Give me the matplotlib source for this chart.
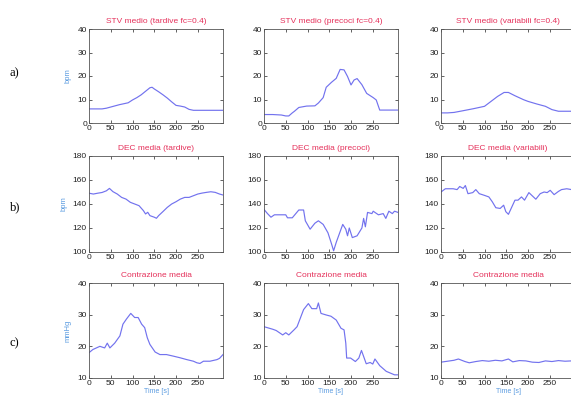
import matplotlib
matplotlib.use("Agg")
import matplotlib.pyplot as plt

# --- dati (tempo [s], valore) ---
stv_tard_t = [0, 10, 20, 30, 40, 50, 60, 70, 80, 90, 100, 110, 120, 130, 140, 145, 150, 160, 170, 180,
              190, 200, 210, 220, 230, 240, 250, 260, 270, 280, 290, 300, 308]
stv_tard_v = [6, 6, 6, 6, 6.3, 6.8, 7.3, 7.8, 8.2, 8.6, 9.8, 10.8, 12, 13.5, 15, 15.2, 14.5, 13.3, 12, 10.6,
              9, 7.5, 7.2, 6.8, 5.8, 5.4, 5.4, 5.4, 5.4, 5.4, 5.4, 5.4, 5.4]

stv_prec_t = [0, 20, 40, 50, 57, 65, 70, 80, 98, 117, 125, 136, 143, 155, 166, 175, 184, 192, 200, 207,
              214, 225, 236, 251, 258, 266, 280, 300, 308]
stv_prec_v = [3.6, 3.6, 3.4, 3.0, 3.0, 4.3, 5.0, 6.6, 7.2, 7.3, 8.5, 10.8, 15.2, 17.3, 19, 22.8, 22.6, 19.8, 16.2, 18.3,
              18.9, 16.3, 12.6, 10.8, 9.8, 5.5, 5.5, 5.5, 5.5]

stv_var_t = [0, 15, 30, 50, 75, 100, 115, 130, 145, 155, 170, 190, 200, 220, 240, 255, 270, 300, 308]
stv_var_v = [4.3, 4.3, 4.5, 5.2, 6.1, 7.1, 9.2, 11.3, 13, 13, 11.6, 9.9, 9.2, 8.1, 7.1, 5.7, 5.0, 5.0, 5.0]

dec_tard_t = [0, 10, 20, 30, 40, 47, 55, 65, 75, 85, 95, 105, 115, 125, 130, 135, 140, 150, 155, 160,
              170, 180, 190, 200, 210, 220, 230, 240, 250, 260, 270, 280, 290, 300, 308]
dec_tard_v = [149, 148.3, 149, 149.6, 151, 153, 150.3, 148.3, 145.5, 144.1, 141.4, 140, 138.6, 134.5, 131.7,
              133.1, 130.3, 129, 128.1, 130.3, 133.7, 137.2, 140, 141.9, 144.1, 145.5, 145.5, 146.9, 148.3,
              149.1, 149.7, 150.2, 149.7, 148.3, 147.5]

dec_prec_t = [0, 8, 16, 24, 35, 50, 54, 65, 80, 91, 95, 106, 117, 125, 136, 147, 155, 160, 166, 173,
              181, 188, 192, 196, 203, 214, 225, 229, 233, 238, 248, 251, 263, 274, 280, 287, 295, 300, 308]
dec_prec_v = [135.5, 132, 129, 131, 131, 131, 128.5, 128.5, 135, 135, 126, 119, 124, 126, 123, 116, 107, 101,
              108, 115, 123, 119, 113.5, 120, 112, 113.5, 120, 128, 121, 133, 132, 134, 131, 132, 128, 134,
              132, 134, 133]

dec_var_t = [0, 10, 28, 37, 43, 51, 56, 62, 73, 80, 88, 99, 110, 118, 126, 136, 144, 149, 155, 162,
             170, 177, 185, 192, 202, 211, 218, 228, 237, 244, 251, 260, 270, 277, 289, 300, 308]
dec_var_v = [150, 152.7, 152.7, 152, 154.6, 153, 155.4, 148.6, 149.5, 152, 148.6, 147.3, 145.9, 141.8, 136.9,
             136.3, 139, 133.6, 131.4, 136.9, 143.2, 143.2, 145.9, 143.2, 149.5, 146.4, 144, 148.6, 150,
             149.5, 151.4, 147.8, 150.5, 152, 152.7, 152, 152.5]

con_tard_t = [0, 9, 25, 36, 42, 48, 59, 71, 78, 86, 96, 105, 113, 121, 128, 134, 140, 152, 163, 178,
              194, 209, 225, 240, 248, 255, 263, 278, 294, 300, 308]
con_tard_v = [18, 19, 20, 19.5, 21, 19.5, 21, 23.3, 27, 28.6, 30.4, 29.1, 29.1, 27, 25.9, 22.7, 20.6, 18.2,
              17.4, 17.4, 16.9, 16.4, 15.8, 15.3, 14.8, 14.6, 15.3, 15.3, 15.8, 16.2, 17.4]

con_prec_t = [0, 20, 28, 43, 50, 57, 69, 76, 91, 102, 110, 121, 125, 131, 143, 154, 166, 177, 184, 188,
              190, 199, 210, 218, 224, 229, 235, 244, 250, 255, 266, 281, 300, 308]
con_prec_v = [26.2, 25.4, 25, 23.6, 24.3, 23.6, 25.2, 26.2, 31.6, 33.5, 31.9, 31.9, 33.7, 30.4, 29.9, 29.5,
              28.3, 25.7, 25.2, 21, 16.3, 16.3, 15.2, 16.3, 18.7, 16.8, 14.5, 14.9, 14.4, 16, 13.9, 12.1,
              11, 11]

con_var_t = [0, 15, 30, 40, 55, 65, 80, 95, 110, 125, 140, 155, 165, 180, 195, 210, 225, 240, 255, 270,
             285, 300, 308]
con_var_v = [15, 15.3, 15.6, 16, 15.2, 14.8, 15.2, 15.5, 15.3, 15.6, 15.4, 16, 15.1, 15.5, 15.4, 15, 14.9,
             15.4, 15.2, 15.5, 15.3, 15.4, 15.2]

titles = [["STV medio (tardive fc=0.4)", "STV medio (precoci fc=0.4)", "STV medio (variabili fc=0.4)"],
          ["DEC media (tardive)", "DEC media (precoci)", "DEC media (variabili)"],
          ["Contrazione media", "Contrazione media", "Contrazione media"]]
series = [[(stv_tard_t, stv_tard_v), (stv_prec_t, stv_prec_v), (stv_var_t, stv_var_v)],
          [(dec_tard_t, dec_tard_v), (dec_prec_t, dec_prec_v), (dec_var_t, dec_var_v)],
          [(con_tard_t, con_tard_v), (con_prec_t, con_prec_v), (con_var_t, con_var_v)]]
row_ylim = [(0, 40), (100, 180), (10, 40)]
row_yticks = [[0, 10, 20, 30, 40], [100, 120, 140, 160, 180], [10, 20, 30, 40]]
row_ylabel = ["bpm", "bpm", "mmHg"]
row_tags = ["a)", "b)", "c)"]
xticks = [0, 50, 100, 150, 200, 250]

W, H = 571, 400
fig = plt.figure(figsize=(W / 100, H / 100), dpi=100)
plt.rcParams['font.family'] = ['Liberation Sans Narrow', 'Liberation Sans', 'DejaVu Sans']

col_left = [89, 264, 441]
ax_w = 134
row_box = [(29, 123), (156, 252), (283, 378)]
tag_y = [73, 207, 343]

line_col = '#7272ee'
title_col = '#e5305a'
label_col = '#5a9be0'

for r in range(3):
    top, bot = row_box[r]
    for c in range(3):
        ax = fig.add_axes([col_left[c] / W, 1 - bot / H, ax_w / W, (bot - top) / H])
        t, v = series[r][c]
        ax.plot(t, v, color=line_col, lw=0.85)
        ax.set_xlim(0, 308)
        ax.set_ylim(*row_ylim[r])
        ax.set_xticks(xticks)
        ax.set_yticks(row_yticks[r])
        ax.tick_params(direction='in', length=2, width=0.5, labelsize=6, pad=1.5,
                       top=True, right=True, colors='#222222')
        for s in ax.spines.values():
            s.set_linewidth(0.6)
            s.set_color('#555555')
        ax.set_title(titles[r][c], fontsize=6, color=title_col, pad=4)
        if c == 0:
            ax.set_ylabel(row_ylabel[r], fontsize=5.5, color=label_col, labelpad=4)
        if r == 2:
            ax.set_xlabel("Time [s]", fontsize=5, color=label_col, labelpad=1)
    fig.text(10 / W, 1 - tag_y[r] / H, row_tags[r], fontsize=9, family='Liberation Serif',
             va='center', ha='left')

fig.savefig("out.png", dpi=100)
